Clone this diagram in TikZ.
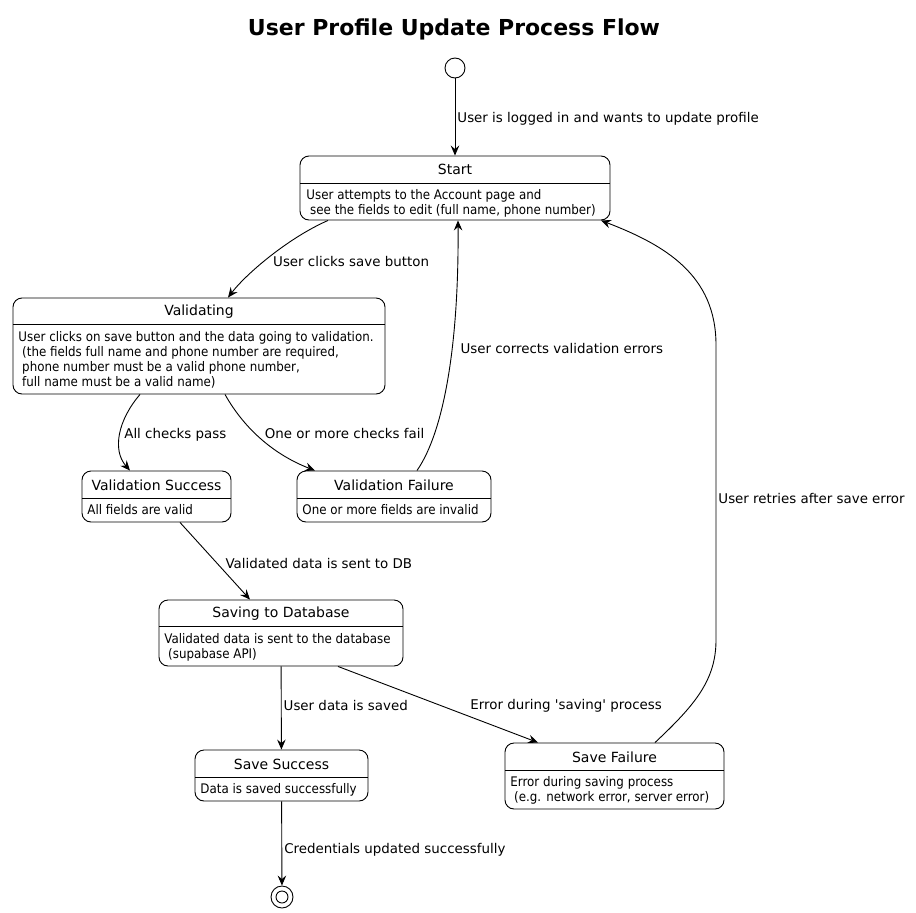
\documentclass[tikz,border=0pt]{standalone}
\usepackage{fontspec}
\setmainfont{DejaVu Sans}
\newfontfamily\condfont{DejaVu Sans Condensed}
\usetikzlibrary{arrows.meta,positioning}

\begin{document}
\begin{tikzpicture}[x=1pt, y=-1pt, line width=0.9pt,
  >={Stealth[length=10pt,width=8.5pt,inset=3.5pt]},
  stbox/.style={draw, rounded corners=9pt, inner sep=0pt},
  sttitle/.style={font=\fontsize{14}{16}\selectfont, inner sep=0pt},
  stbody/.style={font=\condfont\fontsize{13.2}{15}\selectfont, anchor=north west, align=left, inner sep=0pt},
  lbl/.style={font=\fontsize{13.4}{15}\selectfont, inner sep=2pt, anchor=west},
  pseudo/.style={circle, draw, minimum size=20pt, inner sep=0pt}]
  \useasboundingbox (0,0) rectangle (916,913);

  \node [font=\bfseries\fontsize{22}{26}\selectfont] (title) at (454,29) {User Profile Update Process Flow};

  \node [pseudo] (init) at (455,68) {};

  \node [stbox, minimum width=310, minimum height=64] (start) at (455,188) {};
  \draw (300,183) -- (610,183);
  \node [sttitle] (start-t) at (455,169.5) {Start};
  \node [stbody] (start-b) at (306,189.5) {User attempts to the Account page and\\ \ see the fields to edit (full name, phone number)};

  \node [stbox, minimum width=372, minimum height=96] (val) at (199,346) {};
  \draw (13,324.5) -- (385,324.5);
  \node [sttitle] (val-t) at (199,312) {Validating};
  \node [stbody] (val-b) at (18,331) {User clicks on save button and the data going to validation.\\ \ (the fields full name and phone number are required,\\ \ phone number must be a valid phone number,\\ \ full name must be a valid name)};

  \node [stbox, minimum width=149, minimum height=51] (vs) at (156.5,496.5) {};
  \draw (82,498) -- (231,498);
  \node [sttitle] (vs-t) at (156.5,485) {Validation Success};
  \node [stbody] (vs-b) at (87,504.5) {All fields are valid};

  \node [stbox, minimum width=194, minimum height=51] (vf) at (394,496.5) {};
  \draw (297,498) -- (491,498);
  \node [sttitle] (vf-t) at (394,485) {Validation Failure};
  \node [stbody] (vf-b) at (302,504.5) {One or more fields are invalid};

  \node [stbox, minimum width=244, minimum height=66] (sav) at (281,633) {};
  \draw (159,626.5) -- (403,626.5);
  \node [sttitle] (sav-t) at (281,614) {Saving to Database};
  \node [stbody] (sav-b) at (164,633) {Validated data is sent to the database\\ \ (supabase API)};

  \node [stbox, minimum width=173, minimum height=51] (ss) at (281.5,775.5) {};
  \draw (195,777) -- (368,777);
  \node [sttitle] (ss-t) at (281.5,764) {Save Success};
  \node [stbody] (ss-b) at (200,783.5) {Data is saved successfully};

  \node [stbox, minimum width=219, minimum height=66] (sf) at (614.5,776) {};
  \draw (505,770) -- (724,770);
  \node [sttitle] (sf-t) at (614.5,757) {Save Failure};
  \node [stbody] (sf-b) at (510,776.5) {Error during saving process\\ \ (e.g. network error, server error)};

  \node [pseudo, minimum size=22pt] (final) at (282,897) {};
  \node [circle, draw, minimum size=12pt, inner sep=0pt] (final-in) at (final) {};

  \draw [->] (init) -- node[lbl, pos=0.52] {User is logged in and wants to update profile} (start);
  \draw [->] ([xshift=-127pt]start.south) .. controls (288,238) and (246,274) .. node[lbl, pos=0.5, xshift=1pt, yshift=-5pt] {User clicks save button} ([xshift=29pt]val.north);
  \draw [->] ([xshift=-59pt]val.south) .. controls (118,420) and (112,450) .. node[lbl, pos=0.51, xshift=2pt] {All checks pass} ([xshift=-26.5pt]vs.north);
  \draw [->] ([xshift=26pt]val.south) .. controls (245,430) and (275,455) .. node[lbl, pos=0.42, xshift=7pt] {One or more checks fail} ([xshift=-79pt]vf.north);
  \draw [->] ([xshift=23pt]vf.north) .. controls (445,430) and (459,340) .. node[lbl, pos=0.6, xshift=6pt] {User corrects validation errors} ([xshift=3pt]start.south);
  \draw [->] ([xshift=23.5pt]vs.south) -- node[lbl, pos=0.53, xshift=6pt] {Validated data is sent to DB} ([xshift=-31pt]sav.north);
  \draw [->] (sav) -- node[lbl, pos=0.47] {User data is saved} (ss);
  \draw [->] ([xshift=57pt]sav.south) -- node[lbl, pos=0.52, xshift=26pt] {Error during \textquotesingle saving\textquotesingle{} process} ([xshift=-76.5pt]sf.north);
  \draw [->] ([xshift=40.5pt]sf.north) .. controls (695,705) and (716,680) .. (716,640) -- node[lbl, pos=0.48] {User retries after save error} (716,345) .. controls (716,275) and (665,245) .. ([xshift=146pt]start.south);
  \draw [->] (ss) -- node[lbl, pos=0.57] {Credentials updated successfully} (final);
\end{tikzpicture}
\end{document}
